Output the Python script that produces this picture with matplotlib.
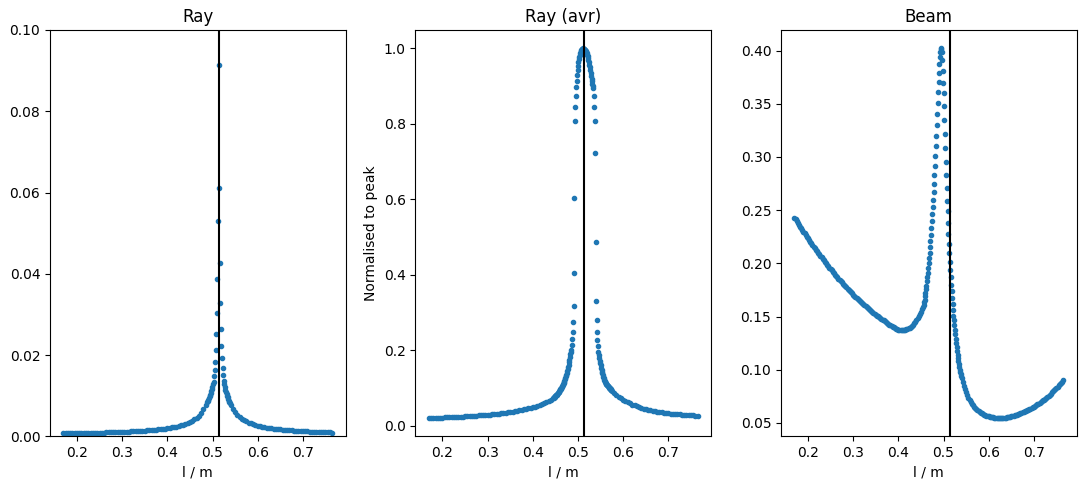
import numpy as np
import matplotlib
matplotlib.use("Agg")
import matplotlib.pyplot as plt

# ---------------- data ----------------
resonance_l = 0.5135          # vertical marker line, l / m

# sampling grids: (start, step) for each block of values
coarse_step = 0.005
half_step = 0.0025
fine_step = 0.001

# ---- Ray ----
ray_left_start = 0.170
ray_left = [0.00074, 0.00075, 0.00076, 0.00077, 0.00078, 0.00079, 0.00080, 0.00081,
            0.00082, 0.00084, 0.00085, 0.00086, 0.00088, 0.00089, 0.00090, 0.00092,
            0.00093, 0.00095, 0.00097, 0.00099, 0.00100, 0.00102, 0.00104, 0.00106,
            0.00108, 0.00111, 0.00113, 0.00116, 0.00118, 0.00121, 0.00124, 0.00127,
            0.00130, 0.00133, 0.00137, 0.00141, 0.00145, 0.00149, 0.00153, 0.00158,
            0.00163, 0.00169, 0.00175, 0.00181, 0.00188, 0.00196, 0.00204, 0.00213,
            0.00223, 0.00233, 0.00245, 0.00259, 0.00273, 0.00290, 0.00309, 0.00331,
            0.00356, 0.00386, 0.00421, 0.00464, 0.00516, 0.00581, 0.00667, 0.00782]
ray_peak_start = 0.4885
ray_peak_step = 0.00125
ray_peak = [0.0085, 0.0088, 0.0091, 0.0095, 0.0099, 0.0103, 0.0107, 0.0112, 0.0117,
            0.0122, 0.0128, 0.0135, 0.0149, 0.0164, 0.0184, 0.0213, 0.0252, 0.0303,
            0.0387, 0.0529, 0.0915, 0.0611, 0.0426, 0.0328, 0.0264, 0.0223, 0.0192,
            0.0168, 0.0151, 0.0137, 0.0128, 0.0121, 0.0115, 0.0110, 0.0105, 0.0100,
            0.0096, 0.0092, 0.0088, 0.0085, 0.0082]
ray_right_start = 0.540
ray_right = [0.0078, 0.0068, 0.0060, 0.0054, 0.0049, 0.0044, 0.0040, 0.0037, 0.0034,
             0.0032, 0.0030, 0.0028, 0.0027, 0.0025, 0.0024, 0.0023, 0.0022, 0.0021,
             0.0020, 0.00195, 0.00188, 0.00181, 0.00175, 0.00169, 0.00163, 0.00158,
             0.00153, 0.00148, 0.00144, 0.00140, 0.00136, 0.00132, 0.00129, 0.00126,
             0.00123, 0.00120, 0.00117, 0.00114, 0.00112, 0.00110, 0.00108, 0.00106,
             0.00104, 0.00102, 0.00100, 0.00098]

# ---- Ray (avr) ----
avr_left_start = 0.170
avr_left = [0.0203, 0.0205, 0.0207, 0.0209, 0.0211, 0.0213, 0.0215, 0.0218, 0.0220,
            0.0223, 0.0226, 0.0229, 0.0232, 0.0235, 0.0238, 0.0241, 0.0245, 0.0249,
            0.0253, 0.0257, 0.0261, 0.0265, 0.0270, 0.0275, 0.0280, 0.0285, 0.0290,
            0.0296, 0.0302, 0.0308, 0.0315, 0.0322, 0.0329, 0.0337, 0.0345, 0.0354,
            0.0363, 0.0373, 0.0384, 0.0395, 0.0406, 0.0419, 0.0430, 0.0443, 0.0457,
            0.0472, 0.0488, 0.0505, 0.0524, 0.0545, 0.0568, 0.0594, 0.0623, 0.0656,
            0.0693, 0.0736]
avr_peak_start = 0.446
avr_peak = [0.0746, 0.0756, 0.0766, 0.0777, 0.0788, 0.0800, 0.0813, 0.0826, 0.0840,
            0.0855, 0.0870, 0.0886, 0.0903, 0.0921, 0.0940, 0.0960, 0.0981, 0.1003,
            0.1026, 0.1050,
            0.1075, 0.1102, 0.1131, 0.1162, 0.1195, 0.1230, 0.1268, 0.1309, 0.1353,
            0.1400, 0.1450, 0.1503, 0.1560, 0.1620, 0.1685, 0.1753, 0.1825, 0.1900,
            0.1960, 0.2010, 0.2146, 0.2300, 0.2480, 0.2750, 0.3160, 0.4045, 0.6030,
            0.8080, 0.8440, 0.8730, 0.8980, 0.9150, 0.9300, 0.9430, 0.9540, 0.9630,
            0.9710, 0.9780, 0.9840, 0.9890, 0.9930, 0.9960, 0.9980, 0.9992, 0.9998,
            1.0000, 0.9999, 0.9995, 0.9986, 0.9972, 0.9954, 0.9931, 0.9903, 0.9870,
            0.9832, 0.9789, 0.9741, 0.9688, 0.9630, 0.9567, 0.9499, 0.9426, 0.9348,
            0.9265, 0.9190, 0.9130, 0.9070, 0.9010, 0.8940, 0.8730, 0.8440, 0.8080,
            0.7220, 0.4870, 0.3310, 0.2810, 0.2480, 0.2280, 0.2100, 0.1950, 0.1870,
            0.1795, 0.1725, 0.1660, 0.1598, 0.1540, 0.1486, 0.1435, 0.1387, 0.1342,
            0.1300, 0.1260, 0.1222, 0.1186, 0.1152, 0.1135, 0.1118, 0.1101, 0.1085,
            0.1070, 0.1055, 0.1039, 0.1024, 0.1010, 0.0995, 0.0982, 0.0968, 0.0955,
            0.0942, 0.0930]
avr_right_start = 0.580
avr_right = [0.0870, 0.0815, 0.0767, 0.0725, 0.0688, 0.0652,
             0.0619, 0.0589, 0.0561, 0.0536, 0.0513, 0.0492, 0.0473, 0.0455, 0.0439,
             0.0424, 0.0410, 0.0397, 0.0385, 0.0374, 0.0364, 0.0354, 0.0345, 0.0337,
             0.0329, 0.0322, 0.0315, 0.0309, 0.0303, 0.0297, 0.0292, 0.0287, 0.0282,
             0.0278, 0.0274, 0.0270, 0.0266, 0.0263]

# ---- Beam ----
beam_left_start = 0.170
beam_left = [0.2430, 0.2413, 0.2396, 0.2379, 0.2362, 0.2345, 0.2329, 0.2313, 0.2297, 0.2281,
             0.2265, 0.2249, 0.2234, 0.2218, 0.2203, 0.2188, 0.2173, 0.2158, 0.2143, 0.2128,
             0.2114, 0.2099, 0.2085, 0.2071, 0.2057, 0.2043, 0.2029, 0.2015, 0.2001, 0.1987,
             0.1974, 0.1960, 0.1947, 0.1934, 0.1921, 0.1908, 0.1895, 0.1882, 0.1870, 0.1857,
             0.1845, 0.1833, 0.1821, 0.1809, 0.1797, 0.1785, 0.1774, 0.1762, 0.1751, 0.1740,
             0.1729, 0.1718, 0.1707, 0.1696, 0.1686, 0.1675, 0.1665, 0.1655, 0.1645, 0.1635,
             0.1625, 0.1615, 0.1606, 0.1596, 0.1587, 0.1578, 0.1569, 0.1560, 0.1551, 0.1542,
             0.1534, 0.1525, 0.1517, 0.1509, 0.1501, 0.1493, 0.1486, 0.1479, 0.1472, 0.1465,
             0.1458, 0.1449, 0.1440, 0.1432, 0.1425, 0.1417, 0.1410, 0.1403, 0.1397, 0.1391,
             0.1386, 0.1382, 0.1378, 0.1375, 0.1373, 0.1372, 0.1372, 0.1373, 0.1375, 0.1379,
             0.1383, 0.1389, 0.1396, 0.1404, 0.1414, 0.1425, 0.1437, 0.1451, 0.1466, 0.1483,
             0.1502, 0.1523, 0.1545, 0.1567]
beam_peak_start = 0.455
beam_peak = [0.1590, 0.1610, 0.1635, 0.1660, 0.1690, 0.1720, 0.1755, 0.1790, 0.1830,
             0.1870, 0.1910, 0.1955, 0.2000, 0.2050, 0.2100, 0.2155, 0.2210, 0.2270,
             0.2330, 0.2394, 0.2463, 0.2530, 0.2600, 0.2672, 0.2748, 0.2830, 0.2918,
             0.3006, 0.3100, 0.3200, 0.3300, 0.3405, 0.3510, 0.3610, 0.3705, 0.3790,
             0.3870, 0.3940, 0.3985, 0.4015, 0.4020, 0.3990, 0.3910, 0.3805, 0.3700,
             0.3600, 0.3476, 0.3350, 0.3216, 0.3084, 0.2953, 0.2833, 0.2708, 0.2582,
             0.2488, 0.2379, 0.2278, 0.2181, 0.2097, 0.2012, 0.1940, 0.1871, 0.1798,
             0.1736, 0.1673, 0.1619, 0.1563, 0.1509, 0.1469, 0.1422, 0.1376, 0.1332,
             0.1290, 0.1250, 0.1212, 0.1176, 0.1142, 0.1110, 0.1080, 0.1052, 0.1026,
             0.1002, 0.0980, 0.0959, 0.0940, 0.0922]
beam_right_start = 0.5425
beam_right = [0.0882, 0.0848, 0.0815, 0.0786, 0.0760, 0.0737, 0.0716, 0.0698, 0.0682, 0.0667,
              0.0653, 0.0641, 0.0630, 0.0620, 0.0611, 0.0603, 0.0596, 0.0589, 0.0583, 0.0577,
              0.0572, 0.0568, 0.0564, 0.0561, 0.0558, 0.0555, 0.0553, 0.0551, 0.0549, 0.0548,
              0.0547, 0.0546, 0.0546, 0.0546, 0.0546, 0.0547, 0.0548, 0.0549, 0.0550, 0.0552,
              0.0554, 0.0556, 0.0558, 0.0561, 0.0564, 0.0567, 0.0570, 0.0574, 0.0577, 0.0581,
              0.0585, 0.0589, 0.0593, 0.0598, 0.0603, 0.0608, 0.0613, 0.0618, 0.0623, 0.0629,
              0.0635, 0.0641, 0.0647, 0.0654, 0.0660, 0.0667, 0.0674, 0.0681, 0.0688, 0.0696,
              0.0704, 0.0712, 0.0720, 0.0729, 0.0738, 0.0747, 0.0756, 0.0766, 0.0776, 0.0786,
              0.0796, 0.0807, 0.0818, 0.0829, 0.0840, 0.0852, 0.0864, 0.0876, 0.0888, 0.0900]

titles = ["Ray", "Ray (avr)", "Beam"]
xlabel = "l / m"
ylabel_mid = "Normalised to peak"


def grid(start, step, values):
    return start + step * np.arange(len(values))


def series(blocks):
    xs, ys = [], []
    for start, step, vals in blocks:
        xs.append(grid(start, step, vals))
        ys.append(np.asarray(vals))
    return np.concatenate(xs), np.concatenate(ys)


ray_x, ray_y = series([(ray_left_start, coarse_step, ray_left),
                       (ray_peak_start, ray_peak_step, ray_peak),
                       (ray_right_start, coarse_step, ray_right)])
avr_x, avr_y = series([(avr_left_start, coarse_step, avr_left),
                       (avr_peak_start, fine_step, avr_peak),
                       (avr_right_start, coarse_step, avr_right)])
beam_x, beam_y = series([(beam_left_start, half_step, beam_left),
                         (beam_peak_start, fine_step, beam_peak),
                         (beam_right_start, half_step, beam_right)])

# ---------------- figure ----------------
fig, axes = plt.subplots(1, 3, figsize=(10.89, 4.9), dpi=100)
fig.subplots_adjust(left=0.0459, right=0.9887, bottom=0.1092, top=0.9388, wspace=0.236)

for ax, (x, y), title in zip(axes, [(ray_x, ray_y), (avr_x, avr_y), (beam_x, beam_y)], titles):
    ax.plot(x, y, '.', color='#1f77b4')
    ax.axvline(resonance_l, color='black')
    ax.set_title(title)
    ax.set_xlabel(xlabel)

axes[0].set_ylim(0, 0.1)
axes[1].set_ylabel(ylabel_mid)

fig.savefig("out.png", dpi=100)
